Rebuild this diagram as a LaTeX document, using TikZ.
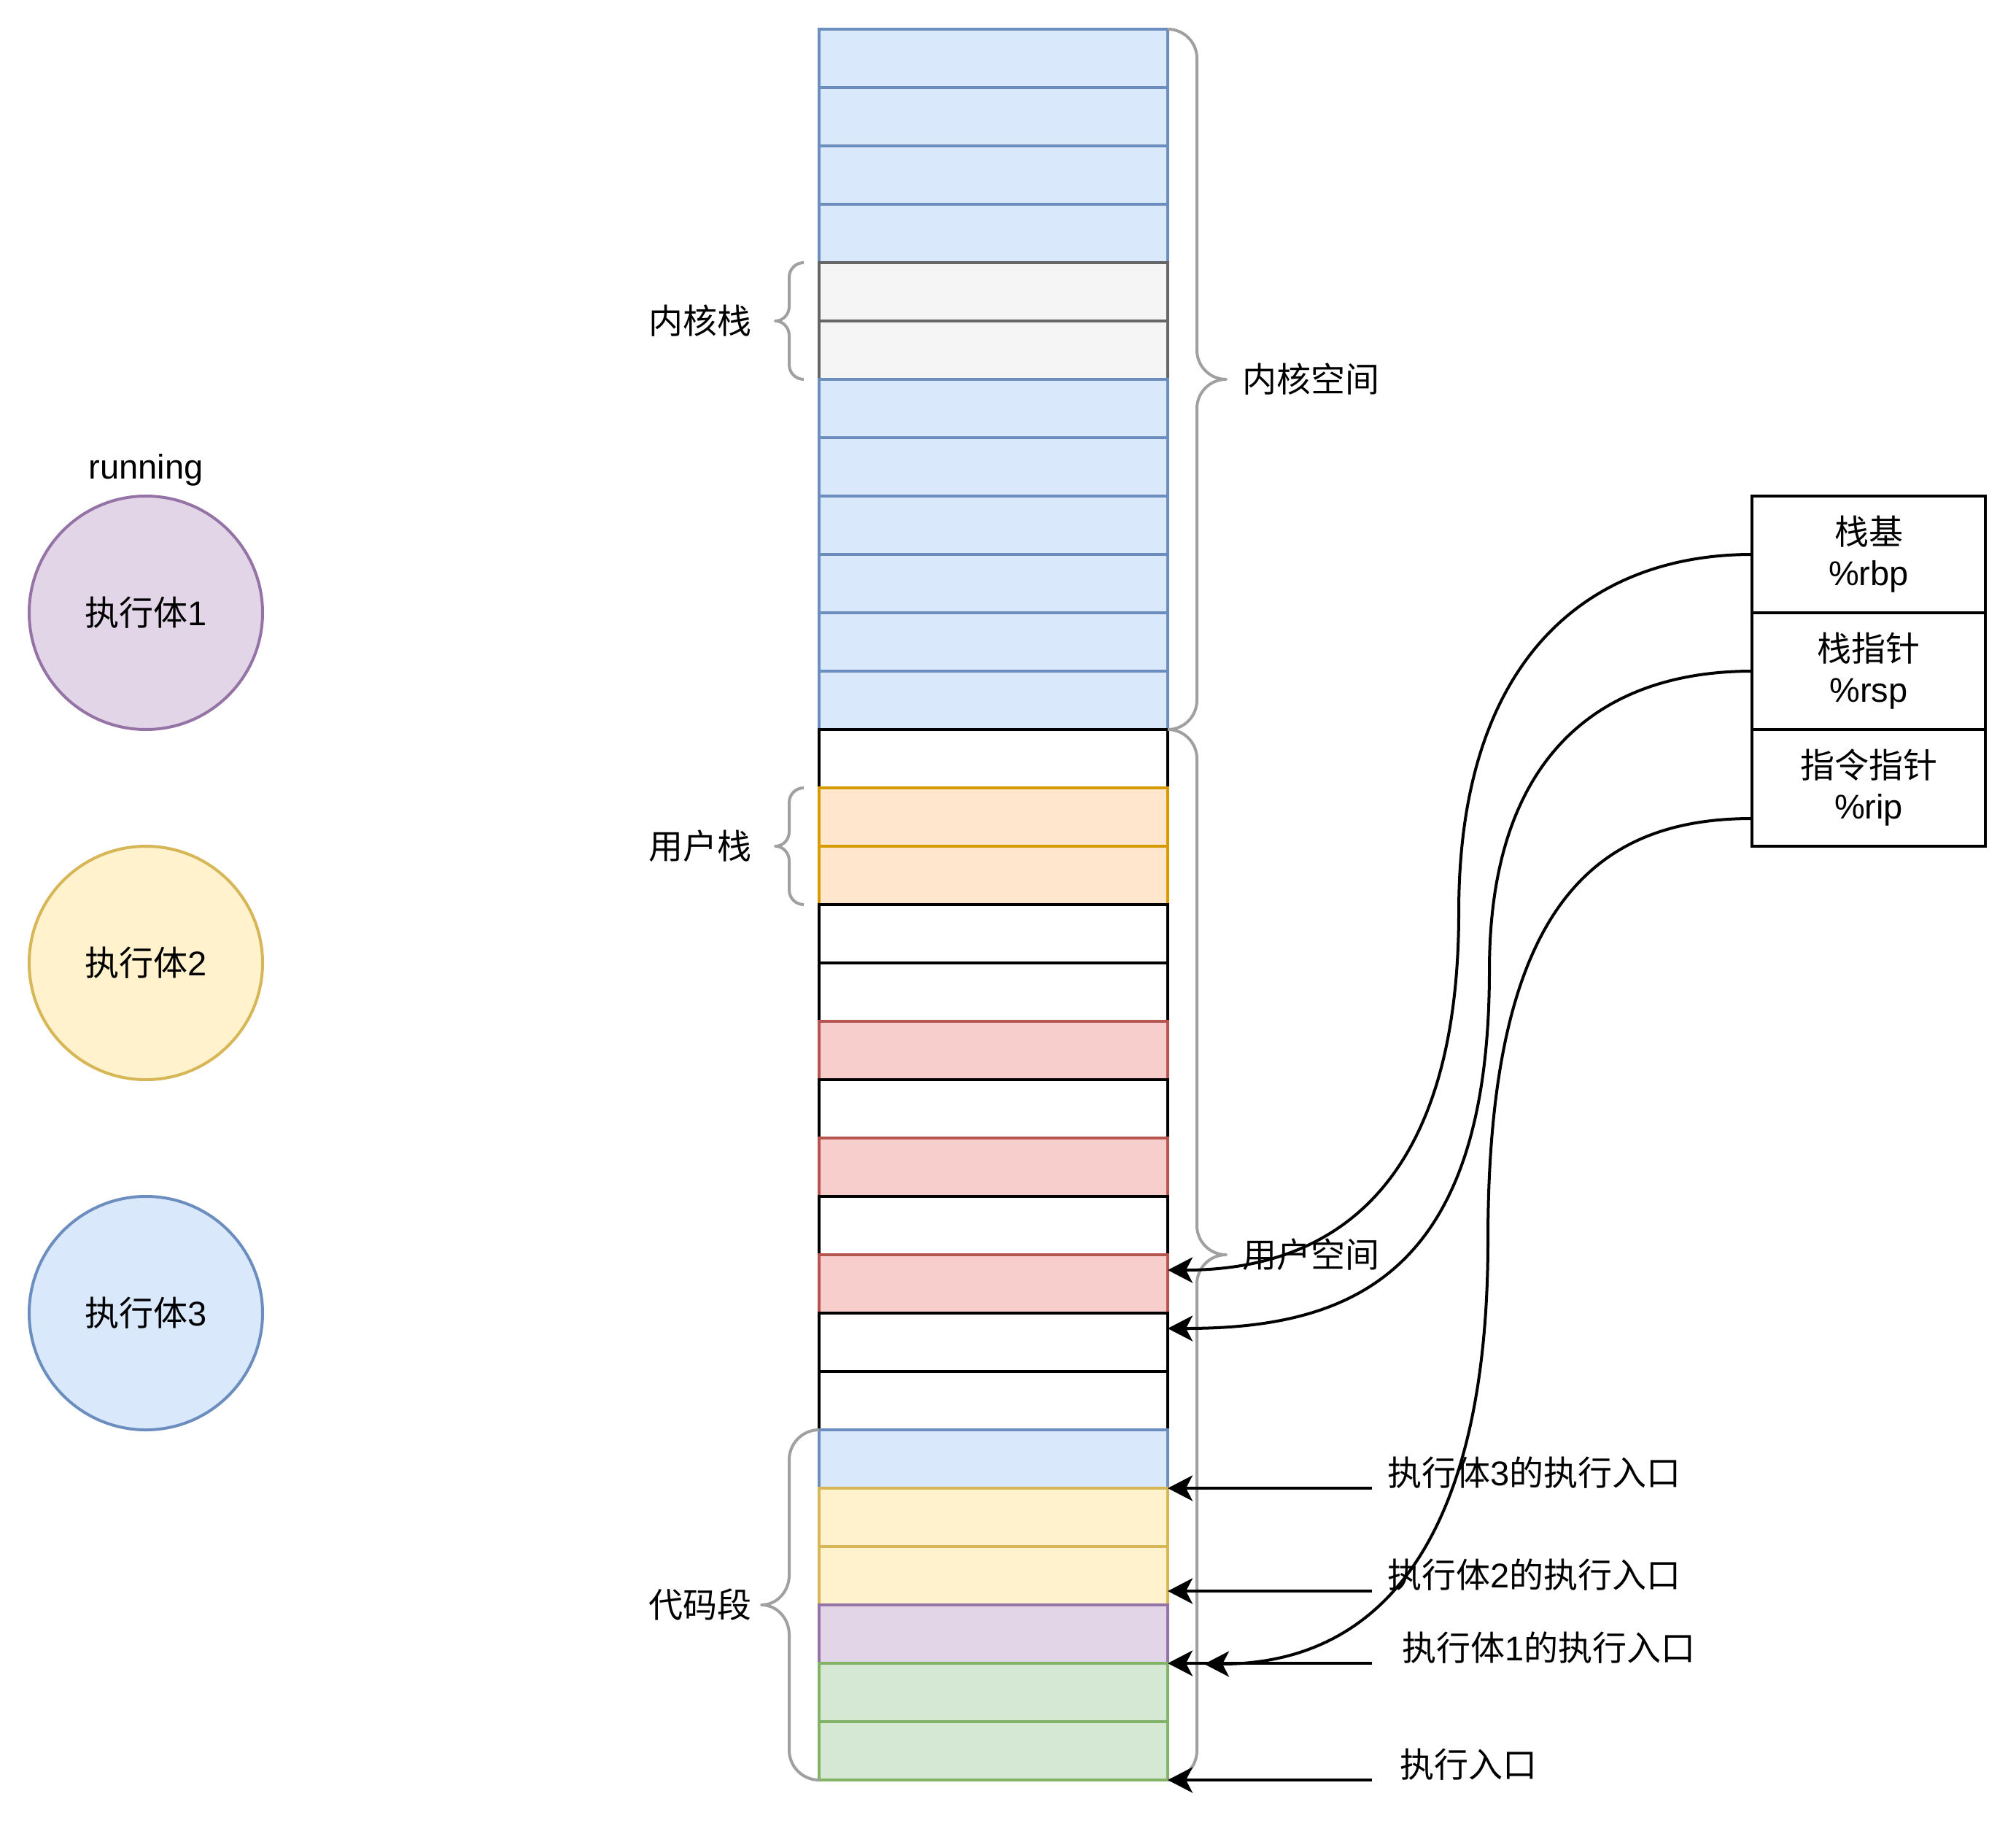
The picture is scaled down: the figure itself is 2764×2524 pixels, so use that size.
\documentclass[tikz,border=0pt]{standalone}
\usepackage{fontspec}
\setmainfont{Liberation Sans}
\newfontfamily\zhfont{Noto Sans CJK SC}
\newcommand{\zh}[1]{{\zhfont #1}}
\usetikzlibrary{arrows.meta}

\definecolor{blueF}{HTML}{DAE8FC}\definecolor{blueD}{HTML}{6C8EBF}
\definecolor{grayF}{HTML}{F5F5F5}\definecolor{grayD}{HTML}{666666}
\definecolor{orangeF}{HTML}{FFE6CC}\definecolor{orangeD}{HTML}{D79B00}
\definecolor{redF}{HTML}{F8CECC}\definecolor{redD}{HTML}{B85450}
\definecolor{yellowF}{HTML}{FFF2CC}\definecolor{yellowD}{HTML}{D6B656}
\definecolor{purpleF}{HTML}{E1D5E7}\definecolor{purpleD}{HTML}{9673A6}
\definecolor{greenF}{HTML}{D5E8D4}\definecolor{greenD}{HTML}{82B366}
\definecolor{braceC}{HTML}{A0A0A0}

% curly bracket: #1 open-side x, #2 spine x, #3 tip x, #4 top y, #5 bottom y
\newcommand{\curlybr}[5]{%
  \pgfmathsetmacro{\brR}{abs(#2-#1)}%
  \pgfmathsetmacro{\brA}{0.552*(#2-#1)}%
  \pgfmathsetmacro{\brB}{0.552*(#3-#2)}%
  \pgfmathsetmacro{\brK}{0.448*\brR}%
  \pgfmathsetmacro{\brC}{(#4+#5)/2}%
  \draw[bracket]
    (#1,#4) .. controls ({#1+\brA},#4) and (#2,{#4+\brK}) .. (#2,{#4+\brR})
    -- (#2,{\brC-\brR}) .. controls (#2,{\brC-\brK}) and ({#3-\brB},\brC) .. (#3,\brC)
    .. controls ({#3-\brB},\brC) and (#2,{\brC+\brK}) .. (#2,{\brC+\brR})
    -- (#2,{#5-\brR}) .. controls (#2,{#5-\brK}) and ({#1+\brA},#5) .. (#1,#5);
}

\begin{document}
\begin{tikzpicture}[x=1pt,y=-1pt,line width=4pt,
  font=\fontsize{47}{56}\selectfont,
  cell/.style={draw,minimum width=478pt,minimum height=80pt,inner sep=0pt,outer sep=0pt},
  proc/.style={circle,draw,minimum size=320pt,inner sep=0pt},
  reg/.style={draw=black,minimum width=320pt,minimum height=160pt,inner sep=0pt,outer sep=0pt,align=center},
  lbl/.style={inner sep=0pt,outer sep=0pt},
  bracket/.style={draw=braceC,line width=4pt,line join=round},
  arr/.style={draw=black,line width=4pt,-{Stealth[length=34pt,width=35pt,inset=9pt]}}]

\useasboundingbox (0,0) rectangle (2764,2524);

% memory column, drawn top to bottom so that each cell's outline sits over the previous one
\foreach \f/\d [count=\i] in {
  blueF/blueD,blueF/blueD,blueF/blueD,blueF/blueD,
  grayF/grayD,grayF/grayD,
  blueF/blueD,blueF/blueD,blueF/blueD,blueF/blueD,blueF/blueD,blueF/blueD,
  white/black,orangeF/orangeD,orangeF/orangeD,white/black,white/black,
  redF/redD,white/black,redF/redD,white/black,redF/redD,white/black,white/black,
  blueF/blueD,yellowF/yellowD,yellowF/yellowD,purpleF/purpleD,greenF/greenD,greenF/greenD}
  \node[cell,fill=\f,draw=\d] (r\i) at (1362,{80*\i}) {};

% brackets
\curlybr{1601}{1641}{1681}{40}{1000}
\curlybr{1601}{1641}{1681}{1000}{2440}
\curlybr{1102}{1082}{1063}{360}{520}
\curlybr{1102}{1082}{1063}{1080}{1240}
\curlybr{1123}{1082}{1044}{1960}{2440}

\node[lbl,anchor=west] (kspace) at (1703,520) {\zh{内核空间}};
\node[lbl,anchor=west] (uspace) at (1703,1720) {\zh{用户空间}};
\node[lbl] (kstack) at (960,440) {\zh{内核栈}};
\node[lbl] (ustack) at (960,1160) {\zh{用户栈}};
\node[lbl] (code) at (960,2200) {\zh{代码段}};

% execution bodies
\node[lbl,anchor=base] (run) at (200,656) {running};
\node[proc,fill=purpleF,draw=purpleD] (p1) at (200,840) {\zh{执行体}1};
\node[proc,fill=yellowF,draw=yellowD] (p2) at (200,1320) {\zh{执行体}2};
\node[proc,fill=blueF,draw=blueD] (p3) at (200,1800) {\zh{执行体}3};

% registers
\node[reg] (rbp) at (2562,760) {\zh{栈基}\\\%rbp};
\node[reg] (rsp) at (2562,920) {\zh{栈指针}\\\%rsp};
\node[reg] (rip) at (2562,1080) {\zh{指令指针}\\\%rip};

% entry labels
\node[lbl,anchor=west] (l3) at (1902,2019) {\zh{执行体}3\zh{的执行入口}};
\node[lbl,anchor=west] (l2) at (1902,2159) {\zh{执行体}2\zh{的执行入口}};
\node[lbl,anchor=west] (l1) at (1922,2259) {\zh{执行体}1\zh{的执行入口}};
\node[lbl,anchor=west] (l0) at (1919,2419) {\zh{执行入口}};

% entry arrows
\coordinate (s3) at (1881,2040);
\coordinate (s2) at (1881,2181);
\coordinate (s1) at (1881,2280);
\coordinate (s0) at (1881,2440);
\coordinate (t2) at (1601,2181);
\draw[arr] (s3) -- (r25.south east);
\draw[arr] (s2) -- (t2);
\draw[arr] (s1) -- (r28.south east);
\draw[arr] (s0) -- (r30.south east);

% register pointers
\coordinate (bpEnd) at (1601,1741);
\coordinate (spEnd) at (1601,1821);
\coordinate (ipEnd) at (1651,2281);
\draw[arr] (rbp.west) .. controls (2180,760) and (2000,900) .. (2000,1250)
  .. controls (2000,1600) and (1850,1741) .. (bpEnd);
\draw[arr] (rsp.west) .. controls (2200,920) and (2042,1030) .. (2042,1330)
  .. controls (2042,1750) and (1850,1821) .. (spEnd);
\draw[arr] ([yshift=-42pt]rip.west) .. controls (2180,1122) and (2040,1250) .. (2040,1700)
  .. controls (2040,2100) and (1900,2281) .. (ipEnd);
\end{tikzpicture}
\end{document}
